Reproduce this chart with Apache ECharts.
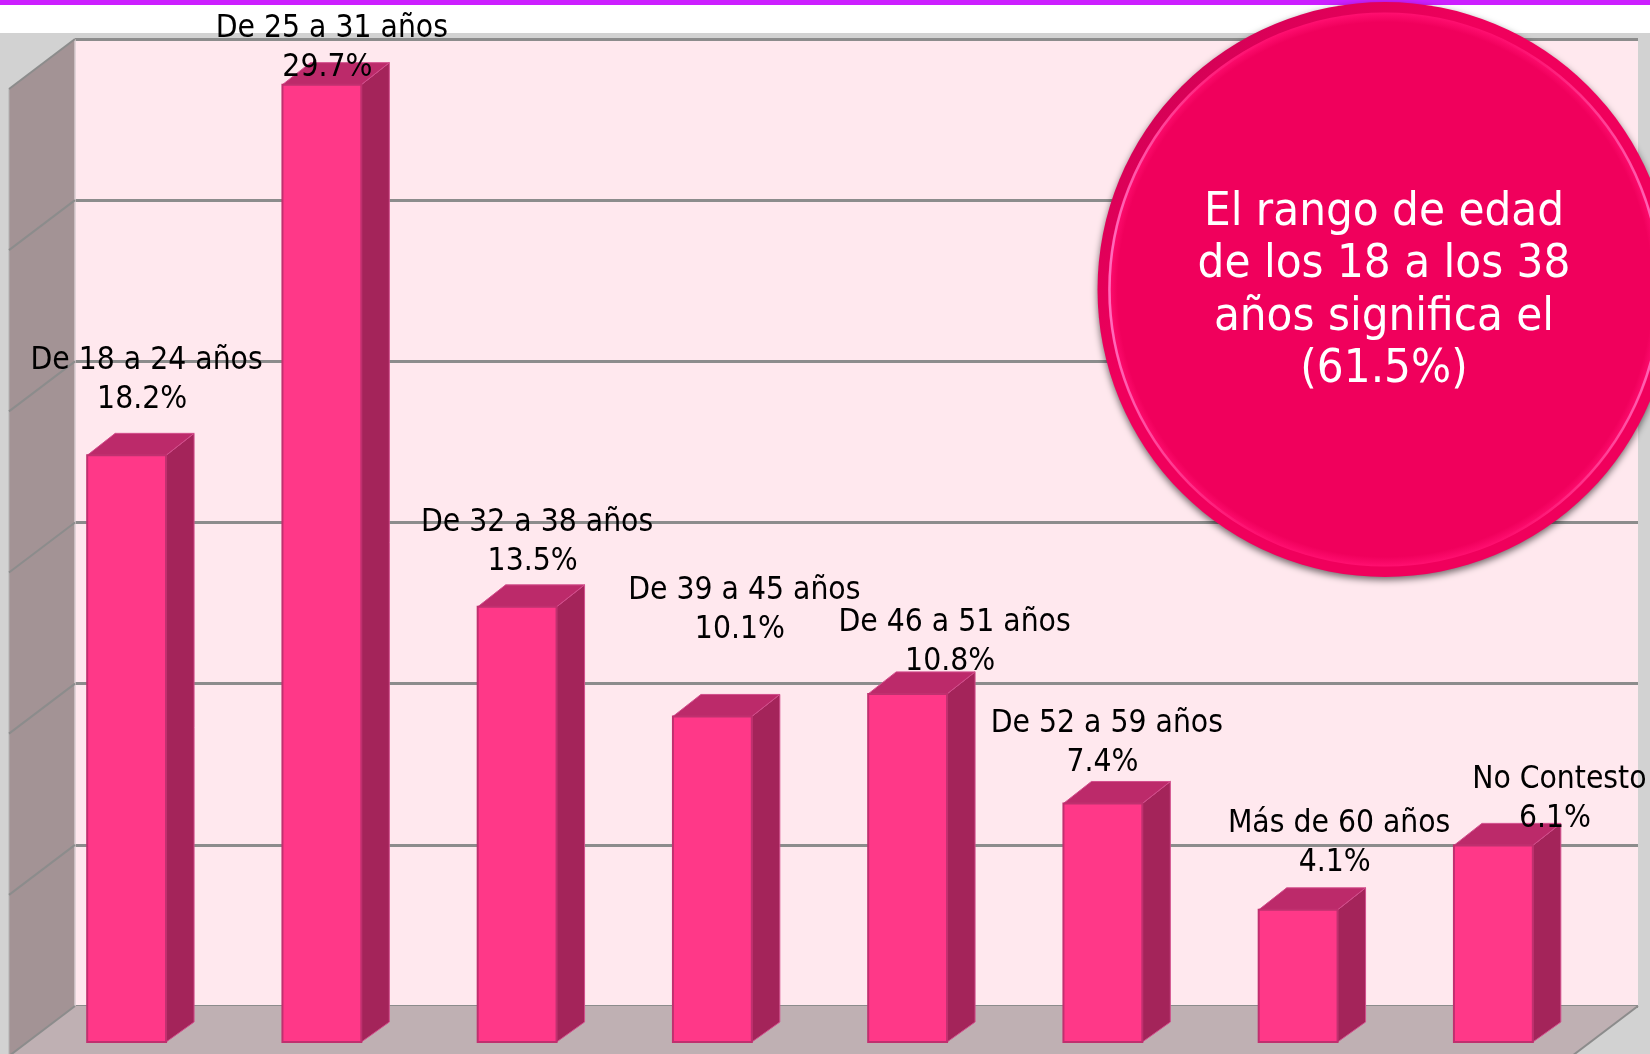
<!DOCTYPE html>
<html>
<head>
<meta charset="utf-8">
<style>html,body{margin:0;padding:0;background:#fff;overflow:hidden}#c{width:1650px;height:1054px}</style>
<script src="https://cdn.jsdelivr.net/npm/echarts@6/dist/echarts.min.js"></script>
</head>
<body>
<div id="c"></div>
<script>
const categories = ['De 18 a 24 años','De 25 a 31 años','De 32 a 38 años','De 39 a 45 años','De 46 a 51 años','De 52 a 59 años','Más de 60 años','No Contesto'];
const percentages = [18.2,29.7,13.5,10.1,10.8,7.4,4.1,6.1];
const calloutText = 'El rango de edad\nde los 18 a los 38\naños significa el\n(61.5%)';
// hand-placed label offsets of the original chart (from bar centre / bar top)
const labelShiftX = [20,10,20,32,47,4,41,66];
const labelShiftY = [-75,-36,-65,-106,-52,-60,-67,-46];

const FONT = '"DejaVu Sans Condensed","DejaVu Sans",sans-serif';
const WALL_DX = -66, WALL_DY = 50;   // depth of the 3D box
const BAR_DX = 28, BAR_DY_TOP = -22, BAR_DY_BASE = -20; // depth of each bar
const GRID_LINE = '#8c8c8c';

function renderBox(params, api) {
  const cs = params.coordSys;
  const l = cs.x, r = cs.x + cs.width, t = cs.y, b = cs.y + cs.height;
  const kids = [
    {type:'polygon', shape:{points:[[l,t],[l+WALL_DX,t+WALL_DY],[l+WALL_DX,b+WALL_DY],[l,b]]}, style:{fill:'#A39395'}},
    {type:'polygon', shape:{points:[[l,b],[r,b],[r+WALL_DX,b+WALL_DY],[l+WALL_DX,b+WALL_DY]]}, style:{fill:'#BFB0B3'}},
    {type:'line', shape:{x1:r,y1:b,x2:r+WALL_DX,y2:b+WALL_DY}, style:{stroke:GRID_LINE,lineWidth:2}},
    {type:'line', shape:{x1:l,y1:t,x2:l,y2:b}, style:{stroke:'#d9cdd0',lineWidth:1.5}},
    {type:'line', shape:{x1:l+WALL_DX,y1:t+WALL_DY,x2:l+WALL_DX,y2:b+WALL_DY}, style:{stroke:'#b3b3b3',lineWidth:1}}
  ];
  for (let v = 0; v <= 30; v += 5) {
    const y = api.coord([0, v])[1];
    kids.push({type:'line', shape:{x1:l,y1:y,x2:l+WALL_DX,y2:y+WALL_DY}, style:{stroke:GRID_LINE,lineWidth:2}});
  }
  return {type:'group', children:kids};
}

function renderBar(params, api) {
  const i = api.value(0);
  const top = api.coord([i, api.value(1)]);
  const base = api.coord([i, 0]);
  const w = api.size([1, 0])[0] * 0.404;
  const x0 = top[0] - w / 2, x1 = top[0] + w / 2, yT = top[1], yB = base[1];
  const edge = '#D24E8C';
  return {type:'group', children:[
    {type:'polygon', shape:{points:[[x1,yT],[x1+BAR_DX,yT+BAR_DY_TOP],[x1+BAR_DX,yB+BAR_DY_BASE],[x1,yB]]},
      style:{fill:'#A4245A',stroke:edge,lineWidth:1}},
    {type:'polygon', shape:{points:[[x0,yT],[x0+BAR_DX,yT+BAR_DY_TOP],[x1+BAR_DX,yT+BAR_DY_TOP],[x1,yT]]},
      style:{fill:'#BC2A6A',stroke:edge,lineWidth:1}},
    {type:'rect', shape:{x:x0,y:yT,width:w,height:yB-yT},
      style:{fill:'#FF3888',stroke:'#C0306F',lineWidth:2}},
    {type:'text', z2:100, style:{
      x: top[0] + labelShiftX[i], y: yT + labelShiftY[i],
      text: categories[i] + '\n' + api.value(1).toFixed(1) + '% ',
      textAlign:'center', verticalAlign:'middle',
      font:'31.5px ' + FONT, lineHeight:39, fill:'#000'}}
  ]};
}

const chart = echarts.init(document.getElementById('c'), null, {renderer:'canvas'});
chart.setOption({
  animation:false,
  backgroundColor:'#D2D2D2',
  grid:[
    {left:75, top:39, width:1563, height:967, show:true, backgroundColor:'#FFE8EE', borderWidth:0},
    {left:29, top:75, width:1562, height:967}
  ],
  xAxis:[
    {type:'category', gridIndex:0, data:categories, show:false},
    {type:'category', gridIndex:1, data:categories, show:false}
  ],
  yAxis:[
    {type:'value', gridIndex:0, min:0, max:30, interval:5,
      axisLine:{show:false}, axisTick:{show:false}, axisLabel:{show:false},
      splitLine:{show:true, lineStyle:{color:GRID_LINE, width:3}}},
    {type:'value', gridIndex:1, min:0, max:30, interval:5, show:false}
  ],
  series:[
    {type:'custom', xAxisIndex:0, yAxisIndex:0, z:1, silent:true, renderItem:renderBox, data:[[0,0]], encode:{x:0,y:1}},
    {type:'custom', xAxisIndex:1, yAxisIndex:1, z:3, renderItem:renderBar,
      data:percentages.map((v,i)=>[i,v]), encode:{x:0,y:1}}
  ],
  graphic:[
    {type:'rect', z:0, zlevel:0, shape:{x:0,y:0,width:1650,height:33}, style:{fill:'#fff'}},
    {type:'rect', z:0, shape:{x:0,y:0,width:1650,height:5}, style:{fill:'#CC1FFF'}},
    {type:'circle', z:10, shape:{cx:1385,cy:289.5,r:287.5},
      style:{fill:new echarts.graphic.LinearGradient(0,0,1,1,[
        {offset:0,color:'#B8084F'},{offset:0.18,color:'#DC0058'},{offset:0.35,color:'#F0005C'},{offset:1,color:'#F0005C'}]),
        shadowBlur:7,shadowOffsetY:3,shadowColor:'rgba(0,0,0,0.55)'}},
    {type:'circle', z:11, shape:{cx:1385,cy:289.5,r:277},
      style:{fill:new echarts.graphic.RadialGradient(0.5,0.5,0.5,[
        {offset:0,color:'#F0005C'},{offset:0.965,color:'#F0005C'},{offset:0.99,color:'#FB0A6A'},{offset:1,color:'#FF1070'}])}},
    {type:'circle', z:11, shape:{cx:1385,cy:289.5,r:275.5},
      style:{fill:'none',lineWidth:2.5,
        stroke:new echarts.graphic.LinearGradient(0,0.5,1,0.5,[
          {offset:0,color:'rgba(255,110,190,1)'},{offset:0.12,color:'rgba(255,90,170,0.6)'},{offset:0.3,color:'rgba(255,40,130,0)'},
          {offset:0.7,color:'rgba(255,40,130,0)'},{offset:0.88,color:'rgba(255,90,170,0.6)'},{offset:1,color:'rgba(255,110,190,1)'}])}},
    {type:'text', z:12, style:{x:1384,y:291.5,text:calloutText,textAlign:'center',verticalAlign:'middle',
      font:'47px '+FONT,lineHeight:52.5,fill:'#fff'}}
  ]
});
</script>
</body>
</html>
